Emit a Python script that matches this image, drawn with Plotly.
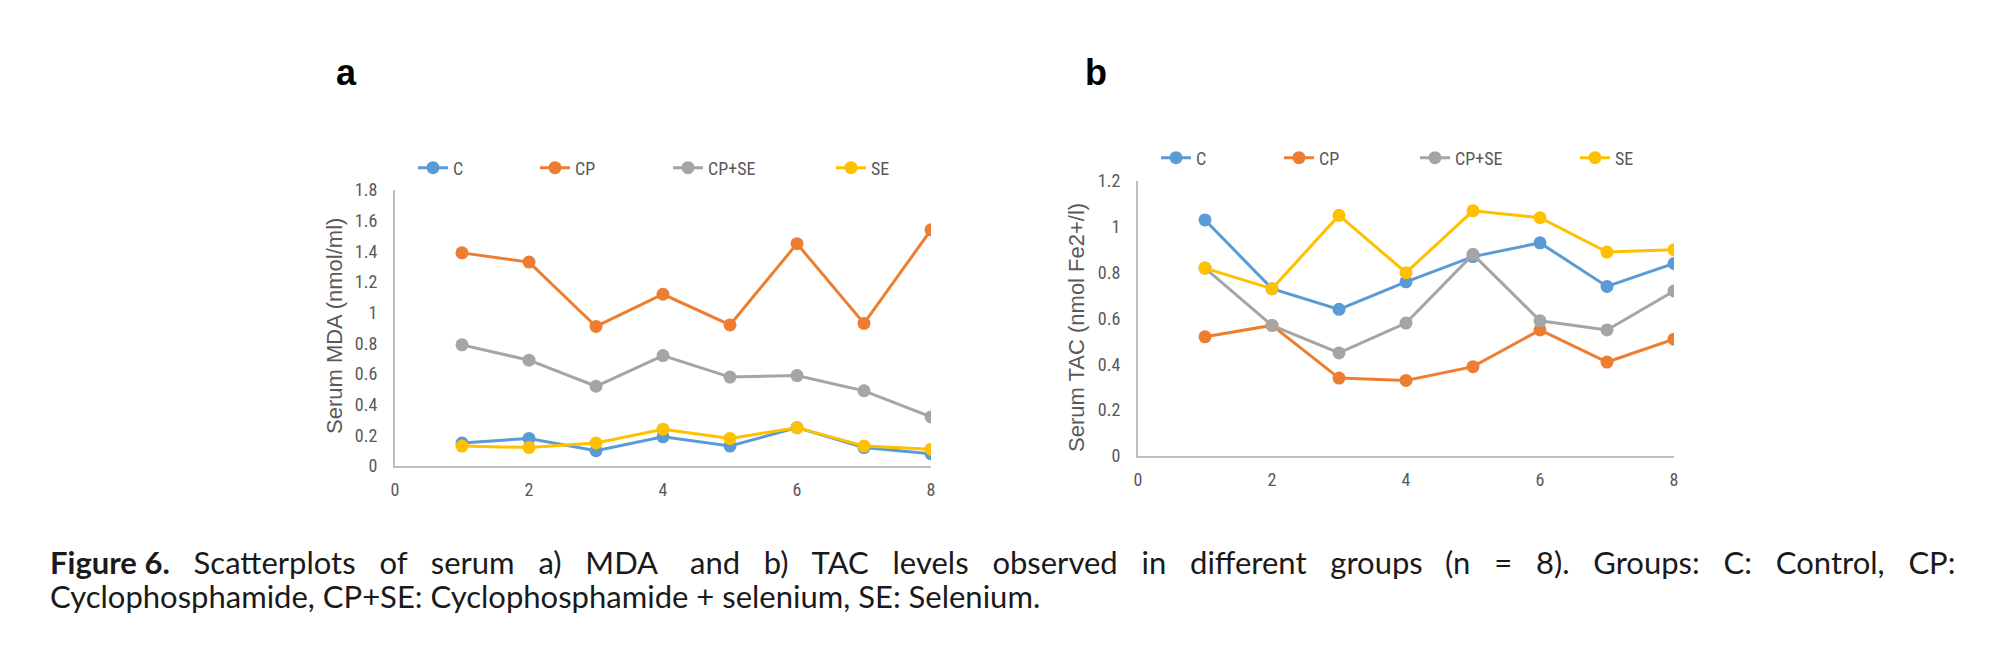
import plotly.graph_objects as go

# ---------------- data ----------------
samples = [1, 2, 3, 4, 5, 6, 7, 8]
groups = ["C", "CP", "CP+SE", "SE"]
colors = ["#5B9BD5", "#ED7D31", "#A5A5A5", "#FFC000"]

mda_C = [0.15, 0.18, 0.10, 0.19, 0.13, 0.25, 0.12, 0.08]
mda_CP = [1.39, 1.33, 0.91, 1.12, 0.92, 1.45, 0.93, 1.54]
mda_CPSE = [0.79, 0.69, 0.52, 0.72, 0.58, 0.59, 0.49, 0.32]
mda_SE = [0.13, 0.12, 0.15, 0.24, 0.18, 0.25, 0.13, 0.11]

tac_C = [1.03, 0.73, 0.64, 0.76, 0.87, 0.93, 0.74, 0.84]
tac_CP = [0.52, 0.57, 0.34, 0.33, 0.39, 0.55, 0.41, 0.51]
tac_CPSE = [0.82, 0.57, 0.45, 0.58, 0.88, 0.59, 0.55, 0.72]
tac_SE = [0.82, 0.73, 1.05, 0.80, 1.07, 1.04, 0.89, 0.90]

x_tickvals = [0, 2, 4, 6, 8]
x_ticktext = ["0", "2", "4", "6", "8"]
mda_tickvals = [0, 0.2, 0.4, 0.6, 0.8, 1.0, 1.2, 1.4, 1.6, 1.8]
mda_ticktext = ["0", "0.2", "0.4", "0.6", "0.8", "1", "1.2", "1.4", "1.6", "1.8"]
tac_tickvals = [0, 0.2, 0.4, 0.6, 0.8, 1.0, 1.2]
tac_ticktext = ["0", "0.2", "0.4", "0.6", "0.8", "1", "1.2"]

# caption, first line split in three parts to imitate the justified line
caption_l1_left = ["<b>Figure 6.</b>", "Scatterplots", "of", "serum", "a)", "MDA"]
caption_l1_mid = ["and", "b)", "TAC", "levels", "observed", "in", "different", "groups"]
caption_l1_right = ["(n", "=", "8).", "Groups:", "C:", "Control,", "CP:"]
caption_line2 = "Cyclophosphamide, CP+SE: Cyclophosphamide + selenium, SE: Selenium."

# ---------------- layout helpers ----------------
W, H = 2000, 672
def px(x):
    return x / W
def py(y):
    return 1 - y / H

TICK_FONT = dict(family="Liberation Sans Narrow, Roboto Condensed, Roboto, sans-serif", size=18, color="#595959")
TITLE_FONT = dict(family="Liberation Sans, Arial, sans-serif", size=22, color="#595959")
CAP_FONT = dict(family="Lato, Noto Sans, sans-serif", size=31, color="#1a1a1a")
AXIS_LINE = "#BFBFBF"
GAP = "\u00a0" * 3

fig = go.Figure()

panels = [
    dict(xa="x", ya="y", series=[mda_C, mda_CP, mda_CPSE, mda_SE],
         leg_x=[427, 549, 682, 845], leg_y=160),
    dict(xa="x2", ya="y2", series=[tac_C, tac_CP, tac_CPSE, tac_SE],
         leg_x=[1170, 1293, 1429, 1589], leg_y=150),
]

legend_layouts = {}
k = 0
for p in panels:
    for g, col, vals, lx in zip(groups, colors, p["series"], p["leg_x"]):
        k += 1
        lname = "legend" if k == 1 else f"legend{k}"
        fig.add_trace(go.Scatter(
            x=samples, y=vals, name=g, mode="lines+markers",
            line=dict(color=col, width=3),
            marker=dict(color=col, size=13),
            xaxis=p["xa"], yaxis=p["ya"], legend=lname, showlegend=True,
        ))
        legend_layouts[lname] = dict(
            x=px(lx - 22), y=py(p["leg_y"]), xanchor="left", yanchor="middle",
            orientation="h", bgcolor="rgba(0,0,0,0)", borderwidth=0,
            font=TICK_FONT, itemclick=False, itemdoubleclick=False,
        )

common_x = dict(range=[0, 8], tickvals=x_tickvals, ticktext=x_ticktext, showgrid=False,
                zeroline=False, showline=True, linecolor=AXIS_LINE, linewidth=2,
                ticks="outside", ticklen=6, tickcolor="rgba(0,0,0,0)",
                tickfont=TICK_FONT, automargin=False, fixedrange=True)
common_y = dict(showgrid=False, zeroline=False, showline=True, linecolor=AXIS_LINE, linewidth=2,
                ticks="outside", ticklen=12, tickcolor="rgba(0,0,0,0)",
                tickfont=TICK_FONT, automargin=False, fixedrange=True)

fig.update_layout(
    width=W, height=H,
    margin=dict(l=0, r=0, t=0, b=0, pad=0),
    paper_bgcolor="white", plot_bgcolor="white",
    xaxis=dict(domain=[px(387), px(923)], anchor="y", **common_x),
    yaxis=dict(domain=[py(458), py(182)], anchor="x", range=[0, 1.8],
               tickvals=mda_tickvals, ticktext=mda_ticktext, **common_y),
    xaxis2=dict(domain=[px(1130), px(1666)], anchor="y2", **common_x),
    yaxis2=dict(domain=[py(448), py(173)], anchor="x2", range=[0, 1.2],
                tickvals=tac_tickvals, ticktext=tac_ticktext, **common_y),
    **legend_layouts,
)

annotations = [
    dict(text="Serum MDA (nmol/ml)", x=px(326), y=py(318), textangle=-90, font=TITLE_FONT),
    dict(text="Serum TAC (nmol Fe2+/l)", x=px(1068), y=py(320), textangle=-90, font=TITLE_FONT),
    dict(text="<b>a</b>", x=px(338), y=py(64), font=dict(family="Liberation Sans, Arial, sans-serif", size=36, color="black")),
    dict(text="<b>b</b>", x=px(1088), y=py(64), font=dict(family="Liberation Sans, Arial, sans-serif", size=36, color="black")),
    dict(text=GAP.join(caption_l1_left), x=px(40), y=py(554), xanchor="left", font=CAP_FONT),
    dict(text=GAP.join(caption_l1_mid), x=px(1048), y=py(554), xanchor="center", font=CAP_FONT),
    dict(text=GAP.join(caption_l1_right), x=px(1949), y=py(554), xanchor="right", font=CAP_FONT),
    dict(text=caption_line2, x=px(40), y=py(588), xanchor="left", font=CAP_FONT),
]
for a in annotations:
    a.setdefault("xanchor", "center")
    a.update(xref="paper", yref="paper", showarrow=False, yanchor="middle")
fig.update_layout(annotations=annotations)

fig.write_html("out.html", config={"displayModeBar": False})
